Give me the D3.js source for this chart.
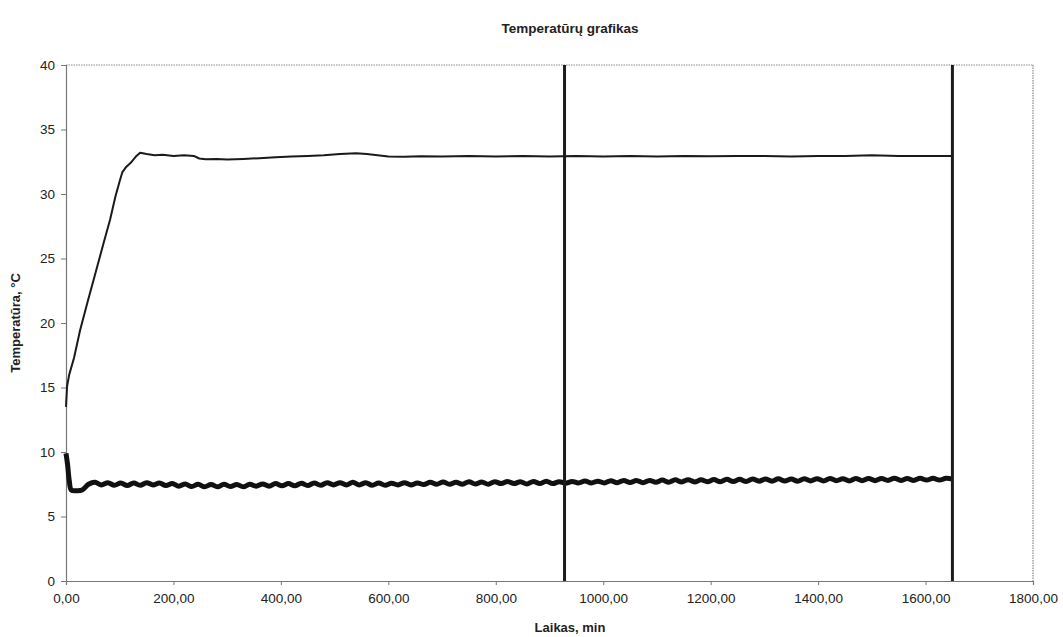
<!DOCTYPE html>
<html>
<head>
<meta charset="utf-8">
<script src="https://cdn.jsdelivr.net/npm/d3@7"></script>
<style>
  body { margin: 0; background: #fff; }
  svg { font-family: "Liberation Sans", Arial, sans-serif; }
</style>
</head>
<body>
<svg id="chart"></svg>
<script>
// upper series: [time min, temperature °C]
var upperSeries = [
  [0, 13.5], [2, 15.1], [6, 16.0], [15, 17.3], [26, 19.4], [40, 21.6], [55, 23.9],
  [70, 26.2], [82, 28.0], [92, 29.8], [100, 31.0], [105, 31.7], [112, 32.1], [120, 32.4],
  [130, 32.9], [138, 33.2], [150, 33.1], [165, 33.0], [180, 33.05], [200, 32.95],
  [220, 33.0], [238, 32.95], [248, 32.75], [260, 32.7], [280, 32.72], [300, 32.68],
  [330, 32.72], [360, 32.78], [390, 32.85], [420, 32.9], [450, 32.95], [480, 33.0],
  [510, 33.1], [540, 33.15], [560, 33.1], [580, 33.0], [600, 32.9], [630, 32.88],
  [660, 32.92], [700, 32.9], [750, 32.95], [800, 32.9], [850, 32.95], [900, 32.9],
  [950, 32.95], [1000, 32.9], [1050, 32.95], [1100, 32.9], [1150, 32.95], [1200, 32.92],
  [1250, 32.95], [1300, 32.95], [1350, 32.9], [1400, 32.95], [1450, 32.95],
  [1500, 33.0], [1550, 32.95], [1600, 32.95], [1650, 32.95]
];

// lower series: the first minutes, then readings every 12 min from t = 30
var lowerStart = [[0, 9.9], [3, 9.0], [6, 7.8], [10, 7.05], [20, 7.0]];
var lowerFrom = 30;
var lowerStep = 12;
var lowerValues = [
  7.05, 7.5, 7.65, 7.45, 7.62, 7.42, 7.6, 7.4, 7.6, 7.42,
  7.62, 7.45, 7.6, 7.4, 7.55, 7.35, 7.52, 7.32, 7.5, 7.3,
  7.48, 7.3, 7.5, 7.32, 7.48, 7.3, 7.5, 7.35, 7.52, 7.35,
  7.55, 7.38, 7.55, 7.38, 7.58, 7.4, 7.6, 7.42, 7.62, 7.45,
  7.62, 7.45, 7.65, 7.45, 7.62, 7.42, 7.6, 7.42, 7.58, 7.45,
  7.62, 7.45, 7.6, 7.48, 7.65, 7.5, 7.68, 7.5, 7.66, 7.5,
  7.7, 7.52, 7.68, 7.5, 7.7, 7.55, 7.72, 7.55, 7.7, 7.52,
  7.72, 7.55, 7.74, 7.55, 7.7, 7.58, 7.72, 7.6, 7.75, 7.6,
  7.74, 7.6, 7.78, 7.62, 7.8, 7.64, 7.8, 7.62, 7.8, 7.65,
  7.82, 7.66, 7.84, 7.68, 7.85, 7.68, 7.84, 7.7, 7.86, 7.7,
  7.88, 7.72, 7.88, 7.72, 7.9, 7.74, 7.9, 7.74, 7.92, 7.75,
  7.9, 7.74, 7.92, 7.76, 7.92, 7.76, 7.94, 7.78, 7.92, 7.76,
  7.94, 7.78, 7.95, 7.78, 7.94, 7.8, 7.96, 7.8, 7.95, 7.8,
  7.96, 7.82, 7.96, 7.82, 7.96, 7.9
];

// vertical markers (min)
var markers = [928, 1650];

var xTicks = [0, 200, 400, 600, 800, 1000, 1200, 1400, 1600, 1800];
var yTicks = [0, 5, 10, 15, 20, 25, 30, 35, 40];

var W = 1063, H = 637;
var margin = { top: 65, right: 30, bottom: 56, left: 66 };
var width = W - margin.left - margin.right;
var height = H - margin.top - margin.bottom;

var svg = d3.select("#chart").attr("width", W).attr("height", H);

var x = d3.scaleLinear().domain([0, 1800]).range([0, width]);
var y = d3.scaleLinear().domain([0, 40]).range([height, 0]);

var g = svg.append("g").attr("transform", "translate(" + margin.left + "," + margin.top + ")");

// frame: dotted top and right
g.append("line").attr("x1", 0).attr("x2", width).attr("y1", 0).attr("y2", 0)
  .attr("stroke", "#8a8a8a").attr("stroke-width", 1.2).attr("stroke-dasharray", "1.5,1");
g.append("line").attr("x1", width).attr("x2", width).attr("y1", 0).attr("y2", height)
  .attr("stroke", "#8a8a8a").attr("stroke-width", 1.2).attr("stroke-dasharray", "1.5,1");

var fmt = function (d) { return d3.format(".2f")(d).replace(".", ","); };

var xAxis = g.append("g").attr("transform", "translate(0," + height + ")")
  .call(d3.axisBottom(x).tickValues(xTicks).tickFormat(fmt).tickSize(4).tickPadding(8));
var yAxis = g.append("g")
  .call(d3.axisLeft(y).tickValues(yTicks).tickSize(5).tickPadding(6));

[xAxis, yAxis].forEach(function (a) {
  a.select(".domain").attr("stroke", "#777").attr("stroke-width", 1.2);
  a.selectAll(".tick line").attr("stroke", "#777");
  a.selectAll(".tick text").attr("fill", "#222").style("font-size", "13.5px");
});

// lines
var line = d3.line().x(function (d) { return x(d[0]); }).y(function (d) { return y(d[1]); });

var lowerSeries = lowerStart.concat(lowerValues.map(function (v, i) { return [lowerFrom + i * lowerStep, v]; }));

g.append("path").datum(upperSeries)
  .attr("fill", "none").attr("stroke", "#1a1a1a").attr("stroke-width", 2)
  .attr("stroke-linejoin", "round")
  .attr("d", line);

g.append("path").datum(lowerSeries)
  .attr("fill", "none").attr("stroke", "#111").attr("stroke-width", 5)
  .attr("stroke-linejoin", "round")
  .attr("d", line.curve(d3.curveCatmullRom));

g.selectAll(".marker").data(markers).enter().append("line")
  .attr("class", "marker")
  .attr("x1", function (d) { return x(d); }).attr("x2", function (d) { return x(d); })
  .attr("y1", y(40)).attr("y2", y(0))
  .attr("stroke", "#1c1c1c").attr("stroke-width", 3);

// titles
svg.append("text").attr("x", 570).attr("y", 33).attr("text-anchor", "middle")
  .style("font-size", "13.5px").style("font-weight", "bold").attr("fill", "#222")
  .text("Temperatūrų grafikas");

svg.append("text").attr("x", 570).attr("y", 632).attr("text-anchor", "middle")
  .style("font-size", "13px").style("font-weight", "bold").attr("fill", "#222")
  .text("Laikas, min");

svg.append("text").attr("transform", "translate(20," + (margin.top + height / 2) + ") rotate(-90)")
  .attr("text-anchor", "middle")
  .style("font-size", "13px").style("font-weight", "bold").attr("fill", "#222")
  .text("Temperatūra, °C");
</script>
</body>
</html>
